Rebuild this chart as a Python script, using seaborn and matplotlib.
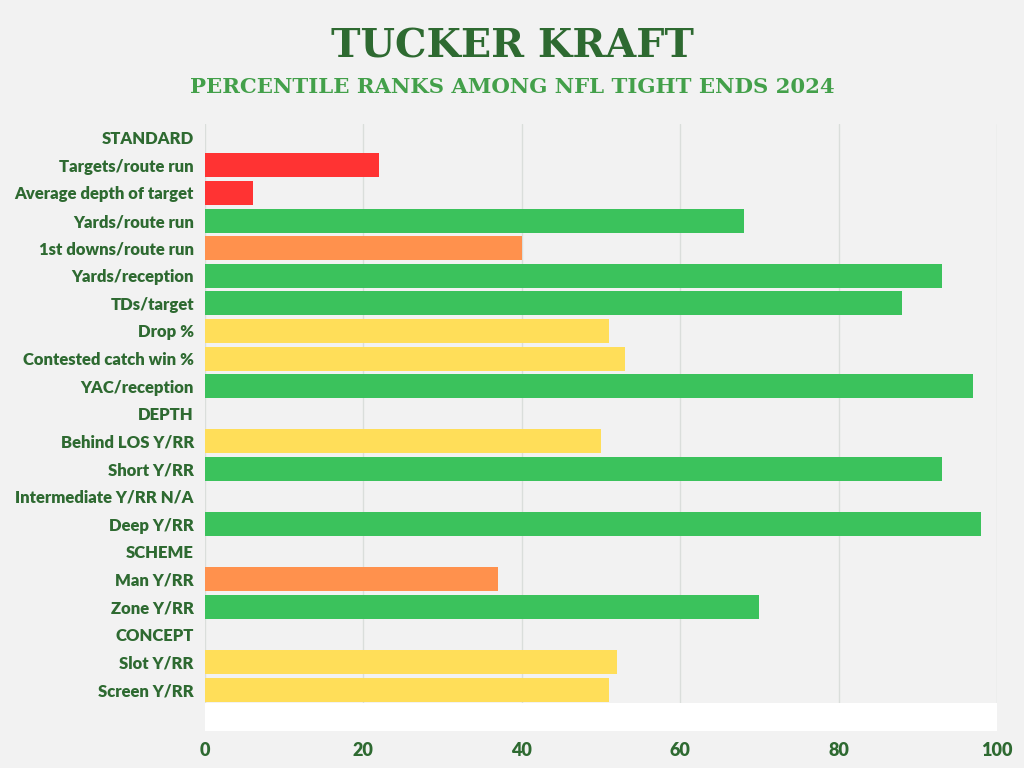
import numpy as np
import pandas as pd
import matplotlib
matplotlib.use("Agg")
import matplotlib.pyplot as plt
import seaborn as sns

# Percentile ranks (0 = header / no value)
labels = [
    "STANDARD", "Targets/route run", "Average depth of target", "Yards/route run",
    "1st downs/route run", "Yards/reception", "TDs/target", "Drop %",
    "Contested catch win %", "YAC/reception",
    "DEPTH", "Behind LOS Y/RR", "Short Y/RR", "Intermediate Y/RR N/A", "Deep Y/RR",
    "SCHEME", "Man Y/RR", "Zone Y/RR",
    "CONCEPT", "Slot Y/RR", "Screen Y/RR",
]
values = [0, 22, 6, 68, 40, 93, 88, 51, 53, 97,
          0, 50, 93, 0, 98,
          0, 37, 70,
          0, 52, 51]
tiers = ["none", "red", "red", "green", "orange", "green", "green", "yellow", "yellow", "green",
         "none", "yellow", "green", "none", "green",
         "none", "orange", "green",
         "none", "yellow", "yellow"]
x_ticks = [0, 20, 40, 60, 80, 100]

tier_colors = {"red": "#ff3333", "orange": "#ff914d", "yellow": "#ffde59",
               "green": "#3bc25c", "none": "#f2f2f2"}
bg = "#f2f2f2"
dark_green = "#2e6a31"
mid_green = "#43a04a"

df = pd.DataFrame({"label": labels, "value": values, "tier": tiers})

sns.set_theme(style="white")
plt.rcParams["font.family"] = ["Lato", "DejaVu Sans"]

fig = plt.figure(figsize=(10.24, 7.68), dpi=100, facecolor=bg)
ax = fig.add_axes([205 / 1024, 1 - 731 / 768, 792 / 1024, 607 / 768])
ax.set_facecolor("none")

sns.barplot(data=df, x="value", y="label", hue="tier", palette=tier_colors,
            order=labels, orient="h", width=0.87, linewidth=0, saturation=1,
            dodge=False, legend=False, ax=ax)

ax.set_xlim(0, 100)
ax.set_ylim(len(labels) + 0.5, -0.5)
# white strip below the last row
ax.axhspan(len(labels) - 0.5, len(labels) + 0.5, color="white", zorder=3, lw=0)

ax.set_xticks(x_ticks)
ax.set_xticklabels([str(t) for t in x_ticks])
ax.grid(axis="x", color="#dadedb", linewidth=1)
ax.set_axisbelow(True)
for s in ax.spines.values():
    s.set_visible(False)

ax.set_xlabel("")
ax.set_ylabel("")
ax.tick_params(axis="x", length=0, pad=8, labelsize=13, labelcolor=dark_green)
ax.tick_params(axis="y", length=0, pad=8, labelsize=12, labelcolor=dark_green)
for t in ax.get_xticklabels() + ax.get_yticklabels():
    t.set_fontweight("heavy")

fig.text(0.5, 1 - 47 / 768, "TUCKER KRAFT", ha="center", va="center",
         fontsize=28.5, fontweight="bold", color=dark_green, family="DejaVu Serif")
fig.text(0.5, 1 - 87 / 768, "PERCENTILE RANKS AMONG NFL TIGHT ENDS 2024",
         ha="center", va="center", fontsize=15.3, fontweight="bold",
         color=mid_green, family="DejaVu Serif")

fig.savefig("out.png", dpi=100, facecolor=bg)
